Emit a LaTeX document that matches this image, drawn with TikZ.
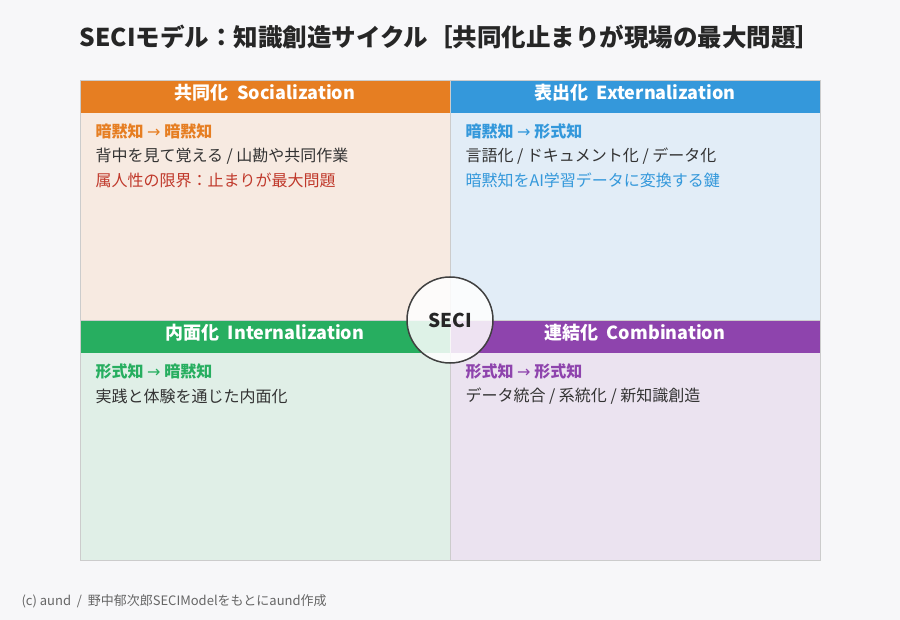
\documentclass[tikz,border=0pt]{standalone}
\usepackage{fontspec}
\setmainfont{Noto Sans CJK JP}
\newfontfamily\dv{DejaVu Sans}
\definecolor{bg}{HTML}{F7F7F9}
\definecolor{cO}{HTML}{E67E22}\definecolor{cB}{HTML}{3498DB}
\definecolor{cG}{HTML}{27AE60}\definecolor{cP}{HTML}{8E44AD}
\definecolor{fO}{HTML}{F7EAE1}\definecolor{fB}{HTML}{E2EDF7}
\definecolor{fG}{HTML}{E0EFE7}\definecolor{fP}{HTML}{EBE3F0}
\definecolor{tx}{HTML}{333333}\definecolor{rd}{HTML}{C0392B}
\newcommand{\arr}{{\dv\mdseries →}}
\begin{document}
\begin{tikzpicture}[x=1pt,y=-1pt,
 head/.style={text=white,font=\bfseries\fontsize{18}{20}\selectfont},
 ln/.style={anchor=west,font=\fontsize{16}{18}\selectfont,text=tx},
 lb/.style={ln,font=\bfseries\fontsize{16}{18}\selectfont}]
\fill[bg] (0,0) rectangle (900,620);
\useasboundingbox (0,0) rectangle (900,620);
\node[font=\bfseries\fontsize{24.5}{28}\selectfont,text=black!85] (title) at (450,37) {SECIモデル：知識創造サイクル［共同化止まりが現場の最大問題］};
\fill[fO] (80,80) rectangle (450,320);
\fill[fB] (450,80) rectangle (820,320);
\fill[fG] (80,320) rectangle (450,560);
\fill[fP] (450,320) rectangle (820,560);
\fill[cO] (80,80) rectangle (450,113);
\fill[cB] (450,80) rectangle (820,113);
\fill[cG] (80,320) rectangle (450,353);
\fill[cP] (450,320) rectangle (820,353);
\draw[gray!40,line width=0.8pt] (80,80) rectangle (820,560) (450,80)--(450,560) (80,320)--(820,320);
\node[head] (h1) at (265,93) {共同化\ \ Socialization};
\node[head] (h2) at (635,93) {表出化\ \ Externalization};
\node[head] (h3) at (265,333) {内面化\ \ Internalization};
\node[head] (h4) at (635,333) {連結化\ \ Combination};
\node[lb,text=cO] (a1) at (92,131) {暗黙知 \arr{} 暗黙知};
\node[ln] (a2) at (92,156) {背中を見て覚える / 山勘や共同作業};
\node[ln,text=rd] (a3) at (92,180) {属人性の限界：止まりが最大問題};
\node[lb,text=cB] (b1) at (462,131) {暗黙知 \arr{} 形式知};
\node[ln] (b2) at (462,156) {言語化 / ドキュメント化 / データ化};
\node[ln,text=cB] (b3) at (462,180) {暗黙知をAI学習データに変換する鍵};
\node[lb,text=cG] (c1) at (92,371) {形式知 \arr{} 暗黙知};
\node[ln] (c2) at (92,396) {実践と体験を通じた内面化};
\node[lb,text=cP] (d1) at (462,371) {形式知 \arr{} 形式知};
\node[ln] (d2) at (462,396) {データ統合 / 系統化 / 新知識創造};
\node[circle,draw=black!75,line width=1.5pt,fill=white,fill opacity=0.85,text opacity=1,minimum size=86pt,font=\bfseries\fontsize{19}{21}\selectfont,text=black!85] (seci) at (450,320) {SECI};
\node[anchor=west,font=\fontsize{13}{15}\selectfont,text=black!60] (foot) at (18,601) {(c) aund\ \ /\ \ 野中郁次郎SECIModelをもとにaund作成};
\end{tikzpicture}
\end{document}
